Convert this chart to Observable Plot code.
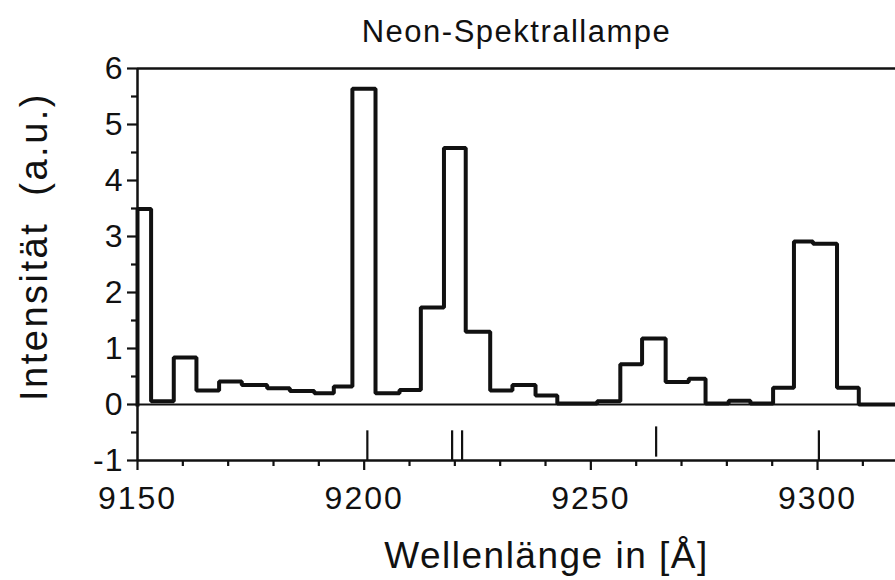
<!DOCTYPE html>
<html><head><meta charset="utf-8">
<script src="https://cdn.jsdelivr.net/npm/d3@7"></script>
<script src="https://cdn.jsdelivr.net/npm/@observablehq/plot@0.6"></script>
<style>
body{margin:0;background:#fff}
#chart svg{display:block}
#chart [aria-label="x-axis tick label"] text{letter-spacing:2px}
#chart [aria-label="y-axis tick label"] text{letter-spacing:1px}
#chart .lbl text{letter-spacing:1.5px}
#chart .ylbl text{letter-spacing:2.5px}
</style>
</head><body><div id="chart"></div>
<script>
const title = "Neon-Spektrallampe";
const xLabel = "Wellenlänge in [Å]";
const yLabel = "Intensität\u00a0\u00a0(a.u.)";

// bin edges (Å) and intensity of each bin
const binEdges = [9150, 9153, 9158, 9163, 9168, 9173, 9178.6, 9183.6, 9189, 9193.3, 9197.4, 9202.5, 9207.8, 9212.5, 9217.6, 9222.4, 9227.8, 9232.7, 9237.8, 9242.6, 9251.4, 9256.5, 9261.3, 9266.5, 9271.6, 9275.3, 9280.4, 9285.2, 9290.2, 9294.8, 9299, 9304.3, 9309.1, 9317.2];
const intensity = [3.49, 0.06, 0.84, 0.25, 0.41, 0.35, 0.29, 0.24, 0.2, 0.32, 5.64, 0.2, 0.26, 1.73, 4.58, 1.3, 0.25, 0.35, 0.16, 0.02, 0.06, 0.72, 1.18, 0.4, 0.46, 0.02, 0.065, 0.02, 0.3, 2.91, 2.87, 0.3, 0];

// reference line markers
const lineWavelengths = [9200.7, 9219.4, 9221.6, 9264.4, 9300.3];
const lineTop = [-0.47, -0.47, -0.47, -0.4, -0.47];
const lineBottom = [-1, -1, -1, -0.94, -1];

const xTicks = [9150, 9200, 9250, 9300];
const xMinorTicks = [9160, 9170, 9180, 9190, 9210, 9220, 9230, 9240, 9260, 9270, 9280, 9290, 9310];
const yTicks = [-1, 0, 1, 2, 3, 4, 5, 6];
const yMinorTicks = [-0.5, 0.5, 1.5, 2.5, 3.5, 4.5, 5.5];
const xDomain = [9150, 9317.2];
const yDomain = [-1, 6];

const points = [{x: binEdges[0], y: 0}]
  .concat(intensity.map((v, i) => ({x: binEdges[i], y: v})))
  .concat([{x: binEdges[binEdges.length - 1], y: intensity[intensity.length - 1]}]);
const markers = lineWavelengths.map((w, i) => ({x: w, y1: lineBottom[i], y2: lineTop[i]}));

const ink = "#111";
const plot = Plot.plot({
  width: 895, height: 580,
  marginTop: 68, marginLeft: 137, marginRight: 0, marginBottom: 120,
  x: {domain: xDomain},
  y: {domain: yDomain},
  style: {fontFamily: "'Liberation Sans', Arial, sans-serif", color: ink, background: "white"},
  marks: [
    Plot.ruleY([0], {stroke: ink, strokeWidth: 2.2}),
    Plot.ruleY([6], {stroke: ink, strokeWidth: 2.5}),
    Plot.ruleY([-1], {stroke: ink, strokeWidth: 2.5}),
    Plot.ruleX([9150], {y1: -1, y2: 6, stroke: ink, strokeWidth: 2.5}),
    Plot.axisX({ticks: xMinorTicks, tickSize: 6, text: null, label: null, strokeWidth: 2.2}),
    Plot.axisX({ticks: xTicks, tickSize: 10, tickPadding: 16, fontSize: 32, label: null, tickFormat: d => String(d), strokeWidth: 2.2}),
    Plot.axisY({ticks: yMinorTicks, tickSize: 6, text: null, label: null, strokeWidth: 2.2}),
    Plot.axisY({ticks: yTicks, tickSize: 10, tickPadding: 4, fontSize: 32, label: null, tickFormat: d => String(d), strokeWidth: 2.2}),
    Plot.ruleX(markers, {x: "x", y1: "y1", y2: "y2", stroke: ink, strokeWidth: 2.2}),
    Plot.line(points, {x: "x", y: "y", curve: "step-after", stroke: ink, strokeWidth: 4, strokeLinejoin: "miter", strokeLinecap: "square"}),
    Plot.text([title], {frameAnchor: "top", lineAnchor: "middle", textAnchor: "middle", dy: -36, fontSize: 31, className: "lbl"}),
    Plot.text([xLabel], {frameAnchor: "bottom", lineAnchor: "middle", textAnchor: "middle", dx: 30, dy: 96, fontSize: 37, className: "lbl"}),
    Plot.text([yLabel], {frameAnchor: "left", lineAnchor: "middle", textAnchor: "middle", rotate: -90, dx: -103, dy: -18, fontSize: 38, className: "ylbl"})
  ]
});
document.getElementById("chart").appendChild(plot);
</script>
</body></html>
